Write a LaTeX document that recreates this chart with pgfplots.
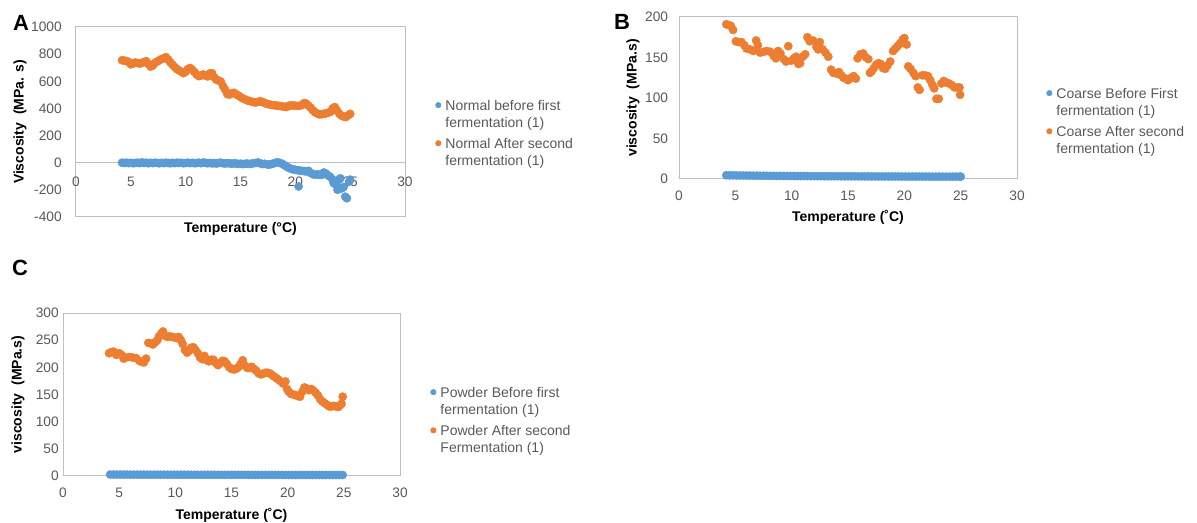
\documentclass[border=0pt]{standalone}
\usepackage{fontspec}
\setmainfont{Liberation Sans}
\usepackage{pgfplots}
\pgfplotsset{compat=1.18}
\definecolor{xblue}{HTML}{5B9BD5}
\definecolor{xorange}{HTML}{ED7D31}
\definecolor{tickgray}{HTML}{595959}
\definecolor{framegray}{HTML}{BFBFBF}
\newcommand\lgtext[2]{\parbox[t]{140pt}{\raggedright #1\\#2}}
\pgfplotsset{
  panel/.style={
    scale only axis, clip=false,
    axis line style={draw=framegray, line width=0.75pt},
    major tick length=0pt,
    xmin=0, xmax=30, xtick={0,5,10,15,20,25,30},
    tick label style={font=\fontsize{10.3}{12}\selectfont, text=tickgray, inner sep=0pt},
    xticklabel style={anchor=center},
    yticklabel style={anchor=east},
    label style={font=\bfseries\fontsize{10.5}{12}\selectfont, text=black},
    xlabel style={anchor=center},
    ylabel style={anchor=center},
    /pgf/number format/assume math mode=true,
    /pgf/number format/1000 sep={},
    legend style={draw=none, fill=none, inner sep=0pt, anchor=north west,
      column sep=3.2pt, row sep=19.5pt, font=\fontsize{10.5}{12.75}\selectfont,
      text=tickgray, cells={anchor=base west}, nodes={inner sep=0pt}},
    legend image code/.code={\draw[##1, mark size=2.1pt] plot coordinates {(0pt,3.8pt)};},
  },
  dots/.style={only marks, mark=*, mark size=3.1pt, line width=0.3pt},
}
\begin{document}
\begin{tikzpicture}
\useasboundingbox (0,0) rectangle (897.75pt,-392.25pt);

% ---------------- Panel A ----------------
\begin{axis}[panel, at={(57pt,-162.75pt)}, anchor=south west,
  width=246.75pt, height=142.5pt,
  ymin=-400, ymax=1000, ytick={-400,-200,0,200,400,600,800,1000},
  xticklabel style={yshift=26.25pt},
  yticklabel style={xshift=-10.5pt},
  extra y ticks={0}, extra y tick labels={},
  extra y tick style={grid=major, major grid style={draw=framegray, line width=0.75pt}},
  xlabel={Temperature (°C)}, xlabel style={at={(axis description cs:0.5,-0.0605)}},
  ylabel={Viscosity~ (MPa. s)}, ylabel style={at={(axis description cs:-0.170,0.5)}},
  legend style={at={(axis description cs:1.092,0.617)}},
]
\addplot[dots, xblue] coordinates {
(4.2,0) (4.4,-2) (4.6,0) (4.8,-3) (5.0,-1) (5.2,-4) (5.4,-2) (5.6,0) (5.8,-3) (6.0,2)
(6.2,-2) (6.4,0) (6.6,-4) (6.8,-1) (7.0,-3) (7.2,0) (7.4,-2) (7.6,-4) (7.8,-1) (8.0,-3)
(8.2,0) (8.4,-2) (8.6,-4) (8.8,-1) (9.0,-3) (9.2,0) (9.4,-2) (9.6,-1) (9.8,-4) (10.0,-2)
(10.2,0) (10.4,-3) (10.6,-1) (10.8,-4) (11.0,-2) (11.2,0) (11.4,-3) (11.6,2) (11.8,-1) (12.0,-4)
(12.2,-2) (12.4,-5) (12.6,-3) (12.8,-6) (13.0,-2) (13.2,0) (13.4,-4) (13.6,-6) (13.8,-3) (14.0,-5)
(14.2,-8) (14.4,-4) (14.6,-6) (14.8,-9) (15.0,-7) (15.2,-10) (15.4,-8) (15.6,-6) (15.8,-9) (16.0,-7)
(16.2,-4) (16.4,-2) (16.6,2) (16.8,-5) (17.0,-10) (17.2,-8) (17.4,-12) (17.6,-15) (17.8,-10) (18.0,-6)
(18.2,0) (18.4,3) (18.6,-2) (18.8,-8) (19.0,-18) (19.2,-28) (19.4,-38) (19.6,-45) (19.8,-50) (20.0,-52)
(20.2,-55) (20.3,-175) (20.4,-58) (20.6,-60) (20.8,-62) (21.0,-65) (21.2,-60) (21.4,-75) (21.6,-85) (21.8,-88)
(22.0,-86) (22.2,-88) (22.4,-90) (22.6,-72) (22.8,-80) (23.0,-95) (23.2,-105) (23.4,-125) (23.5,-150) (23.7,-162)
(23.85,-200) (24.0,-125) (24.1,-115) (24.2,-190) (24.4,-180) (24.55,-250) (24.7,-262) (24.9,-140) (25.0,-125)
};
\addlegendentry{\lgtext{Normal before first}{fermentation (1)}}
\addplot[dots, xorange] coordinates {
(4.2,755) (4.4,752) (4.6,750) (4.8,742) (5.0,725) (5.2,730) (5.4,738) (5.6,735) (5.8,730) (6.0,735)
(6.2,742) (6.4,748) (6.6,728) (6.8,708) (7.0,716) (7.2,735) (7.4,745) (7.6,755) (7.8,764) (8.0,770)
(8.2,778) (8.4,760) (8.6,740) (8.8,722) (9.0,705) (9.2,690) (9.4,680) (9.6,670) (9.8,660) (10.0,670)
(10.2,690) (10.4,698) (10.6,685) (10.8,668) (11.0,650) (11.2,638) (11.4,642) (11.6,650) (11.8,642) (12.0,636)
(12.2,658) (12.4,660) (12.6,630) (12.8,612) (13.0,605) (13.2,598) (13.4,565) (13.6,538) (13.8,505) (14.0,502)
(14.2,512) (14.4,515) (14.6,505) (14.8,495) (15.0,484) (15.2,474) (15.4,468) (15.6,460) (15.8,455) (16.0,450)
(16.2,446) (16.4,444) (16.6,448) (16.8,454) (17.0,447) (17.2,440) (17.4,434) (17.6,430) (17.8,426) (18.0,424)
(18.2,422) (18.4,420) (18.6,418) (18.8,415) (19.0,412) (19.2,410) (19.4,420) (19.6,422) (19.8,422) (20.0,420)
(20.2,418) (20.4,420) (20.6,425) (20.8,440) (21.0,436) (21.2,420) (21.4,405) (21.6,386) (21.8,372) (22.0,362)
(22.2,356) (22.4,357) (22.6,360) (22.8,364) (23.0,368) (23.2,375) (23.4,400) (23.6,410) (23.8,385) (24.0,362)
(24.2,347) (24.4,340) (24.6,336) (24.8,348) (25.0,360)
};
\addlegendentry{\lgtext{Normal After second}{fermentation (1)}}
\end{axis}

% ---------------- Panel B ----------------
\begin{axis}[panel, at={(509.25pt,-134.25pt)}, anchor=south west,
  width=253.5pt, height=121.5pt,
  ymin=0, ymax=200, ytick={0,50,100,150,200},
  xticklabel style={yshift=-12.75pt},
  yticklabel style={xshift=-8pt},
  xlabel={Temperature (˚C)}, xlabel style={at={(axis description cs:0.5,-0.2346)}},
  ylabel={viscosity~ (MPa.s)}, ylabel style={at={(axis description cs:-0.136,0.5)}},
  legend style={at={(axis description cs:1.0867,0.563)}},
]
\addplot[dots, xblue] coordinates {
(4.2,4.6) (4.5,4.5) (4.8,4.5) (5.1,4.4) (5.4,4.3) (5.7,4.3) (6.0,4.2) (6.3,4.2) (6.6,4.1) (6.9,4.1)
(7.2,4.0) (7.5,4.0) (7.8,3.9) (8.1,3.9) (8.4,3.9) (8.7,3.8) (9.0,3.8) (9.3,3.8) (9.6,3.7) (9.9,3.7)
(10.2,3.7) (10.5,3.6) (10.8,3.6) (11.1,3.6) (11.4,3.6) (11.7,3.5) (12.0,3.5) (12.3,3.5) (12.6,3.5) (12.9,3.4)
(13.2,3.4) (13.5,3.4) (13.8,3.4) (14.1,3.4) (14.4,3.3) (14.7,3.3) (15.0,3.3) (15.3,3.3) (15.6,3.3) (15.9,3.2)
(16.2,3.2) (16.5,3.2) (16.8,3.2) (17.1,3.2) (17.4,3.2) (17.7,3.1) (18.0,3.1) (18.3,3.1) (18.6,3.1) (18.9,3.1)
(19.2,3.1) (19.5,3.1) (19.8,3.0) (20.1,3.0) (20.4,3.0) (20.7,3.0) (21.0,3.0) (21.3,3.0) (21.6,3.0) (21.9,3.0)
(22.2,3.0) (22.5,2.9) (22.8,2.9) (23.1,2.9) (23.4,2.9) (23.7,2.9) (24.0,2.9) (24.3,2.9) (24.6,2.9) (24.9,2.9)
(25.0,2.9)
};
\addlegendentry{\lgtext{Coarse Before First}{fermentation (1)}}
\addplot[dots, xorange] coordinates {
(4.2,191) (4.4,190) (4.6,189) (4.8,184) (5.05,170) (5.3,169) (5.55,169) (5.8,165) (6.0,161) (6.3,160)
(6.6,158) (6.85,171) (7.0,165) (7.2,156) (7.5,157) (7.8,158) (8.1,157) (8.4,152) (8.6,149) (8.8,158)
(9.0,155) (9.3,148) (9.5,145) (9.7,164) (9.95,146) (10.2,149) (10.4,151) (10.6,142) (10.75,143) (11.0,151)
(11.2,154) (11.4,175) (11.6,170) (11.9,171) (12.2,163) (12.35,160) (12.5,169) (12.75,160) (13.0,156) (13.25,151)
(13.5,135) (13.7,131) (14.0,130) (14.2,132) (14.4,128) (14.6,125) (14.8,124) (15.0,122) (15.3,125) (15.5,127)
(15.7,124) (15.85,149) (16.1,154) (16.35,155) (16.6,150) (16.8,148) (16.95,131) (17.1,133) (17.3,137) (17.5,141)
(17.7,143) (17.9,142) (18.1,137) (18.3,136) (18.5,140) (18.75,145) (19.0,158) (19.2,161) (19.4,164) (19.6,167)
(19.85,172) (20.0,174) (20.2,166) (20.35,139) (20.55,136) (20.8,131) (21.0,127) (21.2,113) (21.35,110) (21.6,128)
(21.85,128) (22.1,127) (22.3,122) (22.5,116) (22.65,112) (22.85,99) (23.05,99) (23.3,118) (23.5,121) (23.75,119)
(23.95,118) (24.2,116) (24.45,113) (24.7,113) (24.9,113) (24.95,104)
};
\addlegendentry{\lgtext{Coarse After second}{fermentation (1)}}
\end{axis}

% ---------------- Panel C ----------------
\begin{axis}[panel, at={(47.25pt,-357pt)}, anchor=south west,
  width=252.75pt, height=122.25pt,
  ymin=0, ymax=300, ytick={0,50,100,150,200,250,300},
  xticklabel style={yshift=-12.75pt},
  yticklabel style={xshift=-3pt},
  xlabel={Temperature (˚C)}, xlabel style={at={(axis description cs:0.5,-0.239)}},
  ylabel={viscosity~ (MPa.s)}, ylabel style={at={(axis description cs:-0.1335,0.5)}},
  legend style={at={(axis description cs:1.09,0.547)}},
]
\addplot[dots, xblue] coordinates {
(4.2,2.7) (4.5,2.7) (4.8,2.6) (5.1,2.6) (5.4,2.6) (5.7,2.6) (6.0,2.5) (6.3,2.5) (6.6,2.5) (6.9,2.5)
(7.2,2.5) (7.5,2.4) (7.8,2.4) (8.1,2.4) (8.4,2.4) (8.7,2.4) (9.0,2.4) (9.3,2.3) (9.6,2.3) (9.9,2.3)
(10.2,2.3) (10.5,2.3) (10.8,2.3) (11.1,2.3) (11.4,2.2) (11.7,2.2) (12.0,2.2) (12.3,2.2) (12.6,2.2) (12.9,2.2)
(13.2,2.2) (13.5,2.2) (13.8,2.1) (14.1,2.1) (14.4,2.1) (14.7,2.1) (15.0,2.1) (15.3,2.1) (15.6,2.1) (15.9,2.1)
(16.2,2.1) (16.5,2.0) (16.8,2.0) (17.1,2.0) (17.4,2.0) (17.7,2.0) (18.0,2.0) (18.3,2.0) (18.6,2.0) (18.9,2.0)
(19.2,2.0) (19.5,2.0) (19.8,1.9) (20.1,1.9) (20.4,1.9) (20.7,1.9) (21.0,1.9) (21.3,1.9) (21.6,1.9) (21.9,1.9)
(22.2,1.9) (22.5,1.9) (22.8,1.9) (23.1,1.8) (23.4,1.8) (23.7,1.8) (24.0,1.8) (24.3,1.8) (24.6,1.8) (24.9,1.8)
};
\addlegendentry{\lgtext{Powder Before first}{fermentation (1)}}
\addplot[dots, xorange] coordinates {
(4.1,226) (4.3,228) (4.5,229) (4.75,223) (5.0,226) (5.2,223) (5.4,216) (5.6,218) (5.9,219) (6.2,218)
(6.5,217) (6.8,212) (7.0,210) (7.2,209) (7.4,216) (7.6,245) (7.8,244) (8.0,242) (8.2,246) (8.4,250)
(8.55,257) (8.75,262) (8.9,266) (9.1,258) (9.3,256) (9.5,257) (9.7,256) (9.9,255) (10.1,254) (10.3,256)
(10.5,250) (10.65,243) (10.85,232) (11.05,227) (11.2,230) (11.4,236) (11.6,237) (11.8,232) (12.0,226) (12.2,218)
(12.4,215) (12.6,221) (12.8,213) (13.0,211) (13.2,214) (13.4,214) (13.6,208) (13.8,204) (14.0,208) (14.2,212)
(14.4,211) (14.6,206) (14.8,200) (15.0,197) (15.2,196) (15.4,197) (15.6,200) (15.8,206) (16.0,213) (16.2,203)
(16.4,199) (16.6,199) (16.8,201) (17.0,197) (17.2,194) (17.4,189) (17.6,187) (17.8,188) (18.0,190) (18.2,190)
(18.4,189) (18.6,186) (18.8,183) (19.0,180) (19.2,177) (19.4,174) (19.6,170) (19.8,174) (19.95,160) (20.1,155)
(20.3,151) (20.5,150) (20.7,149) (20.9,147) (21.1,146) (21.3,155) (21.5,163) (21.7,161) (21.9,158) (22.1,160)
(22.3,157) (22.5,153) (22.7,148) (22.9,141) (23.1,137) (23.3,134) (23.5,131) (23.7,128) (23.9,128) (24.1,129)
(24.3,128) (24.5,127) (24.65,130) (24.8,133) (24.9,146)
};
\addlegendentry{\lgtext{Powder After second}{Fermentation (1)}}
\end{axis}

\node[font=\bfseries\fontsize{16.5}{18}\selectfont, inner sep=0pt] at (15.75pt,-17.25pt) {A};
\node[font=\bfseries\fontsize{16.5}{18}\selectfont, inner sep=0pt] at (466.5pt,-16.5pt) {B};
\node[font=\bfseries\fontsize{16.5}{18}\selectfont, inner sep=0pt] at (15pt,-201pt) {C};
\end{tikzpicture}
\end{document}
